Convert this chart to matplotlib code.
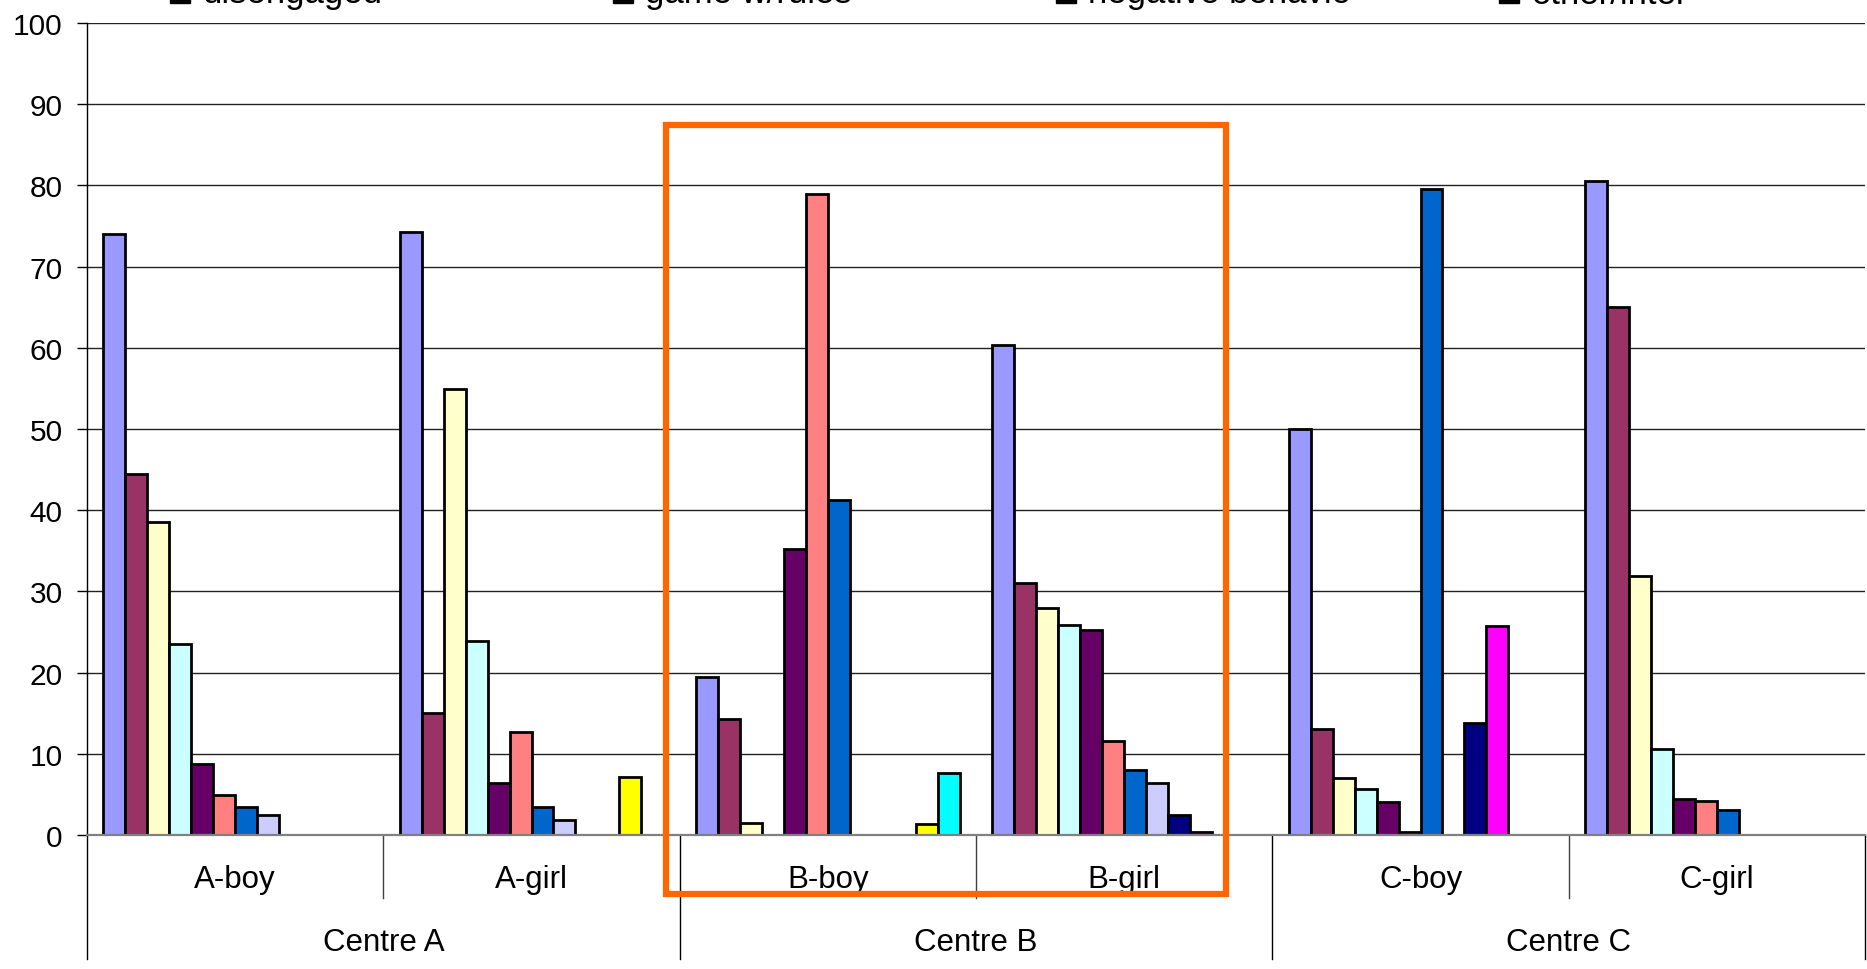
import matplotlib
matplotlib.use("Agg")
import matplotlib.pyplot as plt
import matplotlib.transforms as mtransforms
from matplotlib.patches import Rectangle
import numpy as np

plt.rcParams['font.family'] = ['Liberation Sans', 'DejaVu Sans']

groups = ['A-boy', 'A-girl', 'B-boy', 'B-girl', 'C-boy', 'C-girl']
centres = ['Centre A', 'Centre B', 'Centre C']

# one row per series, one value per group (percent)
series_values = [
    [74.0, 74.2, 19.5, 60.3, 50.0, 80.5],
    [44.4, 15.0, 14.3, 31.0, 13.1, 65.0],
    [38.6, 54.9, 1.5, 28.0, 7.0, 31.9],
    [23.5, 23.9, 0.0, 25.9, 5.7, 10.6],
    [8.7, 6.4, 35.2, 25.3, 4.1, 4.4],
    [4.9, 12.7, 78.9, 11.6, 0.4, 4.2],
    [3.4, 3.5, 41.3, 8.0, 79.6, 3.1],
    [2.5, 1.8, 0.0, 6.4, 0.0, 0.0],
    [0.0, 0.0, 0.0, 2.5, 13.8, 0.0],
    [0.0, 0.0, 0.0, 0.4, 25.8, 0.0],
    [0.0, 7.2, 1.3, 0.0, 0.0, 0.0],
    [0.0, 0.0, 7.6, 0.0, 0.0, 0.0],
]
series_colors = ['#9999FF', '#993366', '#FFFFCC', '#CCFFFF', '#660066', '#FF8080',
                 '#0066CC', '#CCCCFF', '#000080', '#FF00FF', '#FFFF00', '#00FFFF']
legend_row = ['disengaged', 'game w/rules', 'negative behavio', 'other/inter']

W, H = 1867, 970
fig = plt.figure(figsize=(W / 100, H / 100), dpi=100)
ax = fig.add_axes([87 / W, 1 - 836 / H, (1865 - 87) / W, (836 - 24) / H])

n = len(series_values)
bw = 1 / (n + 1.5)
x = np.arange(len(groups))
for i, (vals, col) in enumerate(zip(series_values, series_colors)):
    ax.bar(x + 0.75 * bw + i * bw, vals, width=bw, align='edge', color=col,
           edgecolor='black', linewidth=2, zorder=3)

ax.set_xlim(0, len(groups))
ax.set_ylim(0, 100)
ax.set_yticks(range(0, 101, 10))
ax.tick_params(axis='y', direction='out', length=7.5, width=1, pad=10, labelsize=21.5)
ax.set_xticks([])
ax.yaxis.grid(True, color='#222222', linewidth=1)
for s in ['top', 'right']:
    ax.spines[s].set_visible(False)
ax.spines['left'].set_linewidth(1)
ax.spines['bottom'].set_color('#808080')
ax.spines['bottom'].set_linewidth(1.6)
ax.spines['bottom'].set_zorder(4)

# two-level category axis
trans = mtransforms.blended_transform_factory(ax.transData, ax.transAxes)
y_sub = (836 - 899) / (836 - 24)
y_out = (836 - 960) / (836 - 24)
for k in range(1, len(groups)):
    bottom = y_out if k % 2 == 0 else y_sub
    ax.plot([k, k], [0, bottom], transform=trans, color='#404040' if k % 2 else 'black',
            linewidth=1, clip_on=False)
ax.plot([0, 0], [0, y_out], transform=trans, color='black', linewidth=1, clip_on=False)
ax.plot([6, 6], [0, y_out], transform=trans, color='black', linewidth=1, clip_on=False)
for k, g in enumerate(groups):
    ax.text(k + 0.5, (836 - 880) / (836 - 24), g, transform=trans, ha='center',
            va='center', fontsize=22.5)
for k, c in enumerate(centres):
    ax.text(2 * k + 1, (836 - 943) / (836 - 24), c, transform=trans, ha='center',
            va='center', fontsize=22.5)

# legend row running off the top edge
for j, name in enumerate(legend_row):
    x0 = 170 + j * 443
    fig.patches.append(Rectangle((x0 / W, 1 - 4 / H), 20 / W, 20 / H, transform=fig.transFigure,
                                 facecolor='black', edgecolor='black'))
    fig.text((x0 + 32) / W, 1 - 3.5 / H, name, ha='left', va='baseline', fontsize=25)

# highlight box around Centre B
fig.patches.append(Rectangle((666 / W, 1 - 895 / H), (1226 - 666) / W, (895 - 126) / H,
                             transform=fig.transFigure, fill=False, edgecolor='#FF6600',
                             linewidth=4.5, zorder=10))

fig.savefig('out.png', dpi=100)
